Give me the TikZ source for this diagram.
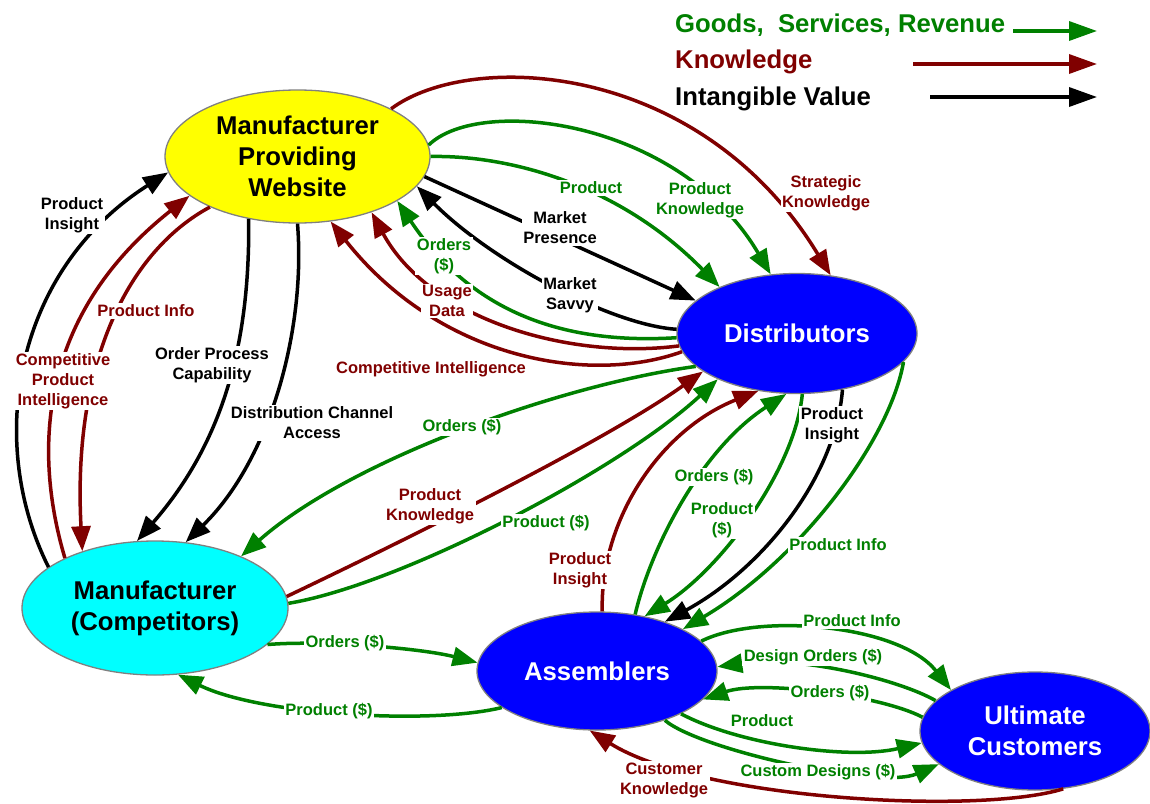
\documentclass[tikz,border=0pt]{standalone}
\usepackage{fontspec}
\setmainfont{Liberation Sans}
\usetikzlibrary{arrows.meta,shapes.geometric}
\definecolor{gr}{RGB}{0,128,0}
\definecolor{kn}{RGB}{128,0,0}
\definecolor{bd}{RGB}{128,128,128}
\definecolor{webyellow}{RGB}{255,255,0}
\definecolor{compcyan}{RGB}{0,255,255}
\definecolor{actblue}{RGB}{0,0,255}
\begin{document}
\begin{tikzpicture}[x=1pt,y=-1pt,
  actor/.style={ellipse, draw=bd, line width=1.3pt, inner sep=0pt, align=center,
    font=\bfseries\fontsize{25.7}{31}\selectfont},
  flow/.style={line width=3.5pt, -{Triangle[length=25pt,width=19pt]}},
  gflow/.style={flow, draw=gr},
  kflow/.style={flow, draw=kn},
  iflow/.style={flow, draw=black},
  lab/.style={fill=white, inner sep=1.5pt, align=center,
    font=\bfseries\fontsize{16.5}{20}\selectfont},
  glab/.style={lab, text=gr},
  klab/.style={lab, text=kn},
  ilab/.style={lab, text=black},
  legtext/.style={anchor=base west, inner sep=0pt, font=\bfseries\fontsize{25.7}{31}\selectfont}
]
\useasboundingbox (0,0) rectangle (1150,803);

% ---------- actors ----------
\node[actor, fill=webyellow, minimum width=265pt, minimum height=133pt] (mpw) at (297.5,156.5) {Manufacturer\\Providing\\Website};
\node[actor, fill=compcyan, minimum width=266pt, minimum height=134pt] (mc) at (155,608) {Manufacturer\\(Competitors)};
\node[actor, fill=actblue, text=white, minimum width=240pt, minimum height=120pt] (dist) at (797,333.5) {Distributors};
\node[actor, fill=actblue, text=white, minimum width=240pt, minimum height=118pt] (asm) at (597,671) {Assemblers};
\node[actor, fill=actblue, text=white, minimum width=230pt, minimum height=118pt] (uc) at (1035,731) {Ultimate\\Customers};

% ---------- legend ----------
\node[legtext, text=gr] (lg1) at (675,32) {Goods,\ \ Services, Revenue};
\node[legtext, text=kn] (lg2) at (675,68) {Knowledge};
\node[legtext, text=black] (lg3) at (675,105) {Intangible Value};
\coordinate (g1s) at (1013,31); \coordinate (g1e) at (1097,31);
\coordinate (g2s) at (913,64);  \coordinate (g2e) at (1097,64);
\coordinate (g3s) at (930,97);  \coordinate (g3e) at (1097,97);
\draw[gflow, -{Triangle[length=28pt,width=19pt]}] (g1s) -- (g1e);
\draw[kflow, -{Triangle[length=28pt,width=19pt]}] (g2s) -- (g2e);
\draw[iflow, -{Triangle[length=28pt,width=19pt]}] (g3s) -- (g3e);

% ---------- connectors: website <-> competitors ----------
\draw[iflow] (mc.159.6) .. controls (-15,440) and (15,270) .. (mpw.187.3);
\draw[kflow] (mc.151) .. controls (30,440) and (45,310) .. (mpw.200.1);
\draw[kflow] (mpw.210.5) .. controls (130,250) and (72,360) .. (mc.142.1);
\draw[iflow] (mpw.232.5) .. controls (250,340) and (225,440) .. (mc.105);
\draw[iflow] (mpw.270) .. controls (306,330) and (270,460) .. (mc.65.6);

% ---------- website <-> distributors ----------
\draw[kflow] (mpw.27.2) .. controls (470,50) and (700,60) .. (dist.60.6);
\draw[gflow] (mpw.5.9) .. controls (480,95) and (680,120) .. (dist.114.8);
\draw[gflow] (mpw.0) .. controls (510,155) and (620,185) .. (dist.149.5);
\draw[iflow] (mpw.-9.1) -- (dist.162.8);
\draw[iflow] (dist.178) .. controls (610,325) and (490,260) .. (mpw.-14.3);
\draw[gflow] (dist.182.6) .. controls (560,345) and (470,310) .. (mpw.-24.4);
\draw[kflow] (dist.186.6) .. controls (570,360) and (430,320) .. (mpw.-37.2);
\draw[kflow] (dist.189.2) .. controls (590,385) and (440,360) .. (mpw.-63.9);

% ---------- distributors <-> competitors ----------
\draw[gflow] (dist.198.5) .. controls (560,385) and (350,460) .. (mc.31.4);
\draw[kflow] (mc.5.6) .. controls (380,552) and (600,445) .. (dist.202.8);
\draw[gflow] (mc.2) .. controls (400,585) and (620,470) .. (dist.210.2);

% ---------- assemblers <-> distributors ----------
\draw[kflow] (asm.85) .. controls (600,520) and (660,430) .. (dist.236.8);
\draw[gflow] (asm.56.7) .. controls (650,550) and (700,450) .. (dist.260.8);
\draw[gflow] (dist.-85) .. controls (795,470) and (720,570) .. (asm.49.4);
\draw[iflow] (dist.-51.8) .. controls (835,480) and (760,570) .. (asm.36);
\draw[gflow] (dist.-15) .. controls (890,440) and (800,560) .. (asm.26.6);

% ---------- assemblers <-> competitors ----------
\draw[gflow] (mc.-18.3) .. controls (320,640) and (420,648) .. (asm.176);
\draw[gflow] (asm.-159) .. controls (430,725) and (260,715) .. (mc.-71);

% ---------- assemblers <-> customers ----------
\draw[gflow] (asm.16.3) .. controls (760,612) and (900,625) .. (uc.154.6);
\draw[gflow] (uc.163.5) .. controls (900,680) and (800,655) .. (asm.2);
\draw[gflow] (uc.173.4) .. controls (880,695) and (760,680) .. (asm.-15);
\draw[gflow] (asm.-27.4) .. controls (740,745) and (850,760) .. (uc.-174.4);
\draw[gflow] (asm.-36) .. controls (700,750) and (880,790) .. (uc.-161);
\draw[kflow] (uc.-64.6) .. controls (980,815) and (700,800) .. (asm.-97);

% ---------- labels ----------
\node[ilab] (l1) at (72,215) {Product\\Insight};
\node[klab] (l3) at (146,311) {Product Info};
\node[klab] (l2) at (63,381) {Competitive\\Product\\Intelligence};
\node[ilab] (l4) at (212,365) {Order Process\\Capability};
\node[ilab] (l5) at (312,423) {Distribution Channel\\Access};
\node[klab] (l6) at (826,193) {Strategic\\Knowledge};
\node[glab] (l7) at (700,200) {Product\\Knowledge};
\node[glab] (l8) at (591,188) {Product};
\node[ilab] (l9) at (560,228) {Market\\Presence};
\node[ilab] (l10) at (570,295) {Market\\Savvy};
\node[glab] (l11) at (444,256) {Orders\\(\$)};
\node[klab] (l12) at (447,301) {Usage\\Data};
\node[klab] (l13) at (431,369) {Competitive Intelligence};
\node[glab] (l14) at (462,427) {Orders (\$)};
\node[klab] (l15) at (430,506) {Product\\Knowledge};
\node[glab] (l16) at (546,523) {Product (\$)};
\node[klab] (l17) at (580,570) {Product\\Insight};
\node[glab] (l18) at (714,477) {Orders (\$)};
\node[glab] (l19) at (722,520) {Product\\(\$)};
\node[ilab] (l20) at (832,425) {Product\\Insight};
\node[glab] (l21) at (838,545) {Product Info};
\node[glab] (l22) at (345,643) {Orders (\$)};
\node[glab] (l23) at (329,711) {Product (\$)};
\node[glab] (l24) at (852,621) {Product Info};
\node[glab] (l25) at (813,657) {Design Orders (\$)};
\node[glab] (l26) at (830,693) {Orders (\$)};
\node[glab] (l27) at (762,721) {Product};
\node[glab] (l28) at (818,772) {Custom Designs (\$)};
\node[klab] (l29) at (664,780) {Customer\\Knowledge};
\end{tikzpicture}
\end{document}
